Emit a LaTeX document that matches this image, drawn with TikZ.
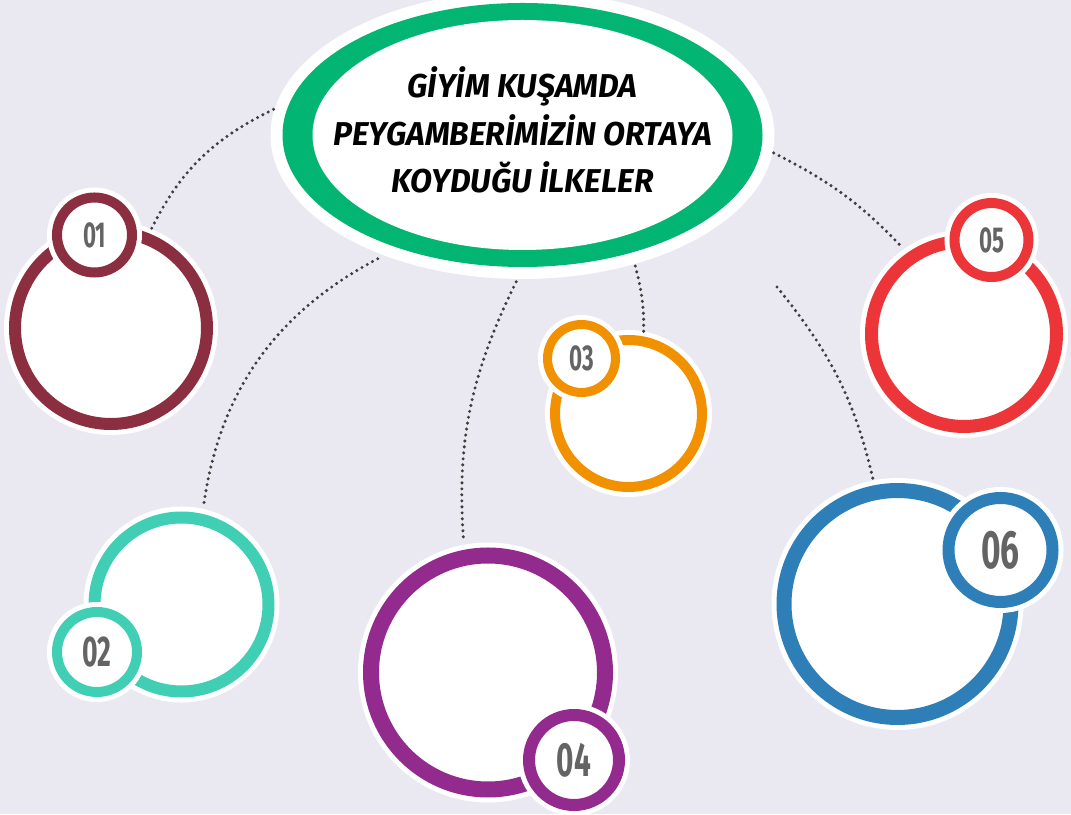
\documentclass[tikz,border=0pt]{standalone}
\usepackage{fontspec}
\usepackage{tikz}
\usetikzlibrary{shapes.geometric}
\newfontfamily\titlefont{Fira Sans}[FakeStretch=0.97]
\newfontfamily\numfont{Fira Sans}[FakeStretch=0.62]
\definecolor{bgc}{RGB}{234,233,242}
\definecolor{titlegreen}{RGB}{2,181,115}
\definecolor{maroon}{RGB}{139,46,64}
\definecolor{teal}{RGB}{64,207,181}
\definecolor{amber}{RGB}{242,145,0}
\definecolor{plum}{RGB}{147,42,142}
\definecolor{tomato}{RGB}{236,53,56}
\definecolor{steel}{RGB}{46,127,184}
\definecolor{numgray}{RGB}{100,100,100}
\definecolor{dotgray}{RGB}{66,60,60}
\tikzstyle{bigring}=[circle,fill=white,inner sep=0pt]
\tikzstyle{smallring}=[circle,fill=white,inner sep=0pt,text=numgray]
\tikzstyle{conn}=[draw=dotgray,line width=3.4pt,line cap=round,dash pattern=on 0pt off 6pt]
\newcommand{\numlbl}[2]{{\fontsize{#1}{#1}\numfont\bfseries #2}}

\begin{document}
\begin{tikzpicture}[x=1pt,y=1pt]
    \useasboundingbox (0,0) rectangle (1071,814);
    \fill[bgc] (0,0) rectangle (1071,814);

    \node[ellipse,fill=white,minimum width=504pt,minimum height=288pt,inner sep=0pt] (ell) at (522.5,679) {};
    \fill[titlegreen] (ell.center) ellipse [x radius=240, y radius=132];
    \fill[white] (ell.center) ellipse [x radius=210, y radius=115];
    \node[align=center,font=\titlefont\bfseries\itshape\fontsize{33}{47.5}\selectfont] (title) at (522.5,684)
        {GİYİM KUŞAMDA\\PEYGAMBERİMİZİN ORTAYA\\KOYDUĞU İLKELER};

    \foreach \n/\x/\y/\dm/\lw/\col in {c1/111/486/192/12/maroon, c2/181.5/209.5/174/12/teal,
        c3/628.5/400.5/147/10/amber, c4/488/141.5/234/16/plum,
        c5/964/480/185/13/tomato, c6/897.5/210/227/15/steel}
    \node[bigring,draw=\col,line width=\lw,minimum size=\dm pt,preaction={draw=white,line width=\lw+10}] (\n) at (\x,\y) {};

    \foreach \n/\x/\y/\dm/\lw/\col/\fs/\lbl in {s1/94.5/579/75/10/maroon/36/01, s2/97/162/80/10/teal/43/02,
        s3/581.5/455.5/68/9/amber/36/03, s4/574/54/90/12/plum/48/04,
        s5/991.5/574/74/10/tomato/36/05, s6/1000.5/264/104/12/steel/54/06}
    \node[smallring,draw=\col,line width=\lw,minimum size=\dm pt,preaction={draw=white,line width=\lw+10}] (\n) at (\x,\y) {\numlbl{\fs}{\lbl}};

    \coordinate (e6) at (777,527);
    \foreach \from/\to/\b/\sa/\sb in {ell.174/c1.68/-19/1/4, ell.221/c2.77/-27/7/9, ell.268/c4.101/-15/3/12,
        ell.311/c3.79/8/2/5, ell.356/c5.125/10/1/7, e6/c6.101/13/0/7}
    \draw[conn,shorten <=\sa pt,shorten >=\sb pt] (\from) to[bend left=\b] (\to);
\end{tikzpicture}
\end{document}
